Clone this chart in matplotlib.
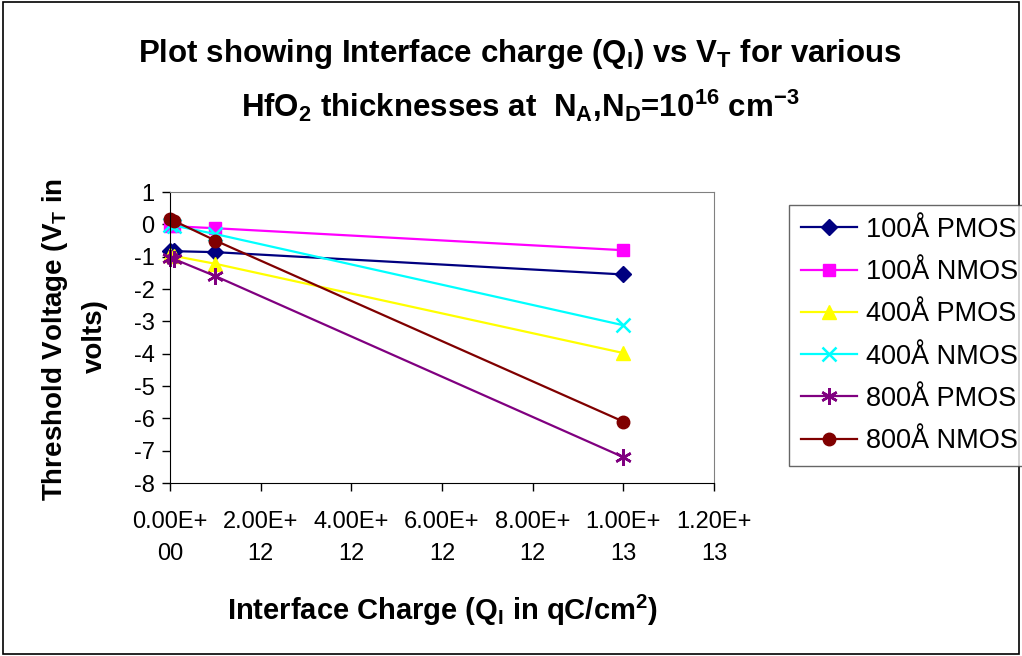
import matplotlib
matplotlib.use('Agg')
from matplotlib import pyplot as plt
from matplotlib.patches import Rectangle

plt.rcParams['font.family'] = ['Liberation Sans', 'DejaVu Sans']
plt.rcParams['mathtext.fontset'] = 'custom'
plt.rcParams['mathtext.rm'] = 'Liberation Sans:bold'
plt.rcParams['mathtext.it'] = 'Liberation Sans:bold'
plt.rcParams['mathtext.bf'] = 'Liberation Sans:bold'
plt.rcParams['mathtext.default'] = 'rm'
plt.rcParams['axes.unicode_minus'] = False

# interface charge (qC/cm^2)
charge = [1e10, 1e11, 1e12, 1e13]

# threshold voltage (V)
vt_100_pmos = [-0.82, -0.83, -0.86, -1.55]
vt_100_nmos = [-0.05, -0.06, -0.12, -0.80]
vt_400_pmos = [-0.95, -0.98, -1.22, -3.98]
vt_400_nmos = [-0.02, -0.04, -0.30, -3.12]
vt_800_pmos = [-1.03, -1.08, -1.60, -7.20]
vt_800_nmos = [0.15, 0.10, -0.50, -6.10]

series = [
    ('100Å PMOS', vt_100_pmos, '#000080', 'D', 8),
    ('100Å NMOS', vt_100_nmos, '#FF00FF', 's', 9),
    ('400Å PMOS', vt_400_pmos, '#FFFF00', '^', 10),
    ('400Å NMOS', vt_400_nmos, '#00FFFF', 'x', 10),
    ('800Å PMOS', vt_800_pmos, '#800080', (6, 2, 0), 12),
    ('800Å NMOS', vt_800_nmos, '#800000', 'o', 9),
]

x_ticks = [0, 2e12, 4e12, 6e12, 8e12, 1e13, 1.2e13]
x_tick_labels = ['0.00E+\n00', '2.00E+\n12', '4.00E+\n12', '6.00E+\n12',
                 '8.00E+\n12', '1.00E+\n13', '1.20E+\n13']
y_ticks = list(range(-8, 2))

fig = plt.figure(figsize=(10.22, 6.56), dpi=100)
ax = fig.add_axes([0.1663, 0.2637, 0.5323, 0.4436])

for name, vals, color, marker, size in series:
    ax.plot(charge, vals, color=color, marker=marker, markersize=size,
            markeredgewidth=1.8 if marker in ('x', (6, 2, 0)) else 1,
            linewidth=1.6, label=name, clip_on=False)

ax.set_xlim(0, 1.2e13)
ax.set_ylim(-8, 1)
ax.set_xticks(x_ticks)
ax.set_xticklabels(x_tick_labels, linespacing=1.6)
ax.set_yticks(y_ticks)
ax.tick_params(axis='both', direction='out', length=6, width=1,
               labelsize=17, colors='black')
ax.tick_params(axis='x', pad=14)
ax.tick_params(axis='y', pad=5)

for side in ('left', 'bottom'):
    ax.spines[side].set_color('black')
for side in ('top', 'right'):
    ax.spines[side].set_color('#808080')

fig.text(0.509, 0.917,
         'Plot showing Interface charge (Q$_\\mathregular{I}$) vs V$_\\mathregular{T}$ for various',
         ha='center', va='center', fontsize=22.5, fontweight='bold')
fig.text(0.509, 0.838,
         'HfO$_\\mathregular{2}$ thicknesses at  N$_\\mathregular{A}$,N$_\\mathregular{D}$=10$^\\mathregular{16}$ cm$^\\mathregular{-3}$',
         ha='center', va='center', fontsize=22.5, fontweight='bold')

fig.text(0.4325, 0.070, 'Interface Charge (Q$_\\mathregular{I}$ in qC/cm$^\\mathregular{2}$)',
         ha='center', va='center', fontsize=21, fontweight='bold')

fig.text(0.054, 0.482, 'Threshold Voltage (V$_\\mathregular{T}$ in',
         ha='center', va='center', rotation=90, fontsize=20, fontweight='bold')
fig.text(0.093, 0.488, 'volts)',
         ha='center', va='center', rotation=90, fontsize=20, fontweight='bold')

leg = fig.legend(loc='upper left', bbox_to_anchor=(0.772, 0.688),
                 fontsize=19.5, frameon=True, fancybox=False, handlelength=2.05,
                 handletextpad=0.33, labelspacing=0.6, borderpad=0.45,
                 borderaxespad=0)
leg.get_frame().set_edgecolor('#404040')
leg.get_frame().set_linewidth(1)

# outer chart border
fig.patches.append(Rectangle((0.003, 0.003), 0.994, 0.994, transform=fig.transFigure,
                             fill=False, edgecolor='black', linewidth=1.2))

fig.savefig('out.png', dpi=100)
